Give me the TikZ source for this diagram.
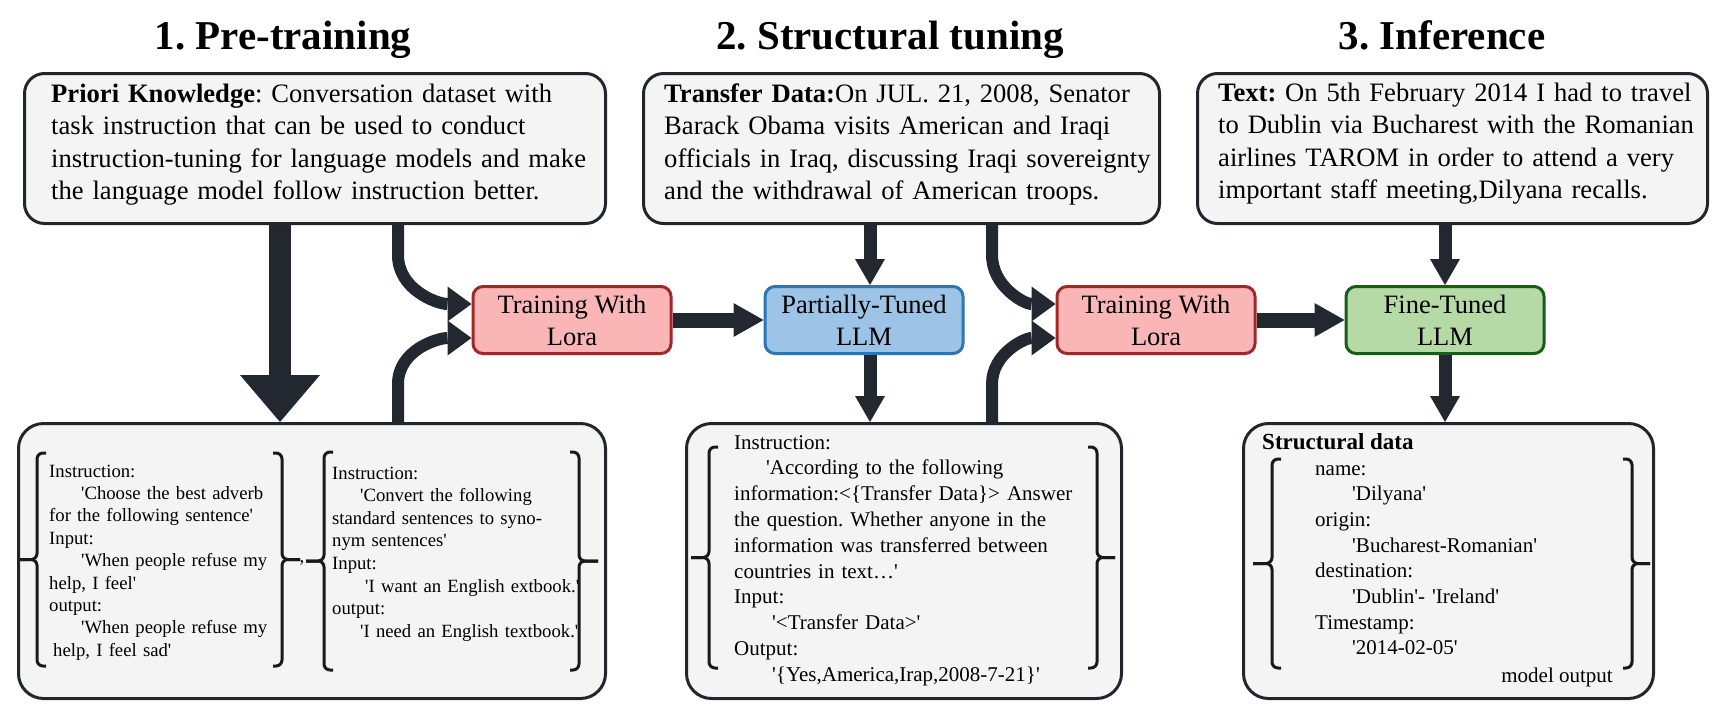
\documentclass[tikz,border=0pt]{standalone}
\usepackage{fontspec}
\setmainfont{Liberation Serif}[Ligatures=TeXOff]
\usetikzlibrary{arrows.meta}
\frenchspacing
\definecolor{boxfill}{HTML}{F4F4F4}
\definecolor{dark}{HTML}{22262C}
\definecolor{arrc}{HTML}{232830}
\definecolor{redf}{HTML}{FAB6B6}
\definecolor{redd}{HTML}{A0282A}
\definecolor{bluef}{HTML}{9DC3E6}
\definecolor{blued}{HTML}{2E75B6}
\definecolor{greenf}{HTML}{B6DAA6}
\definecolor{greend}{HTML}{185C18}
\tikzset{
  box/.style={draw=dark, line width=3pt, fill=boxfill, rounded corners=20pt, anchor=north west, inner sep=0pt},
  mid/.style={line width=3pt, rounded corners=10pt, minimum width=198pt, minimum height=67pt, align=center, inner sep=0pt, font=\fontsize{26.5}{32}\selectfont},
  txt/.style={anchor=base west, inner sep=0pt, align=left, text width=700pt},
  ttl/.style={anchor=base, inner sep=0pt, font=\fontsize{41}{49}\selectfont\bfseries},
  brc/.style={draw=black!90, line width=3pt, rounded corners=6pt},
  bigarr/.style={draw=arrc, line width=22pt, -{Triangle[width=80pt,length=47pt,line width=0pt]}},
  curarr/.style={draw=arrc, line width=12pt, -{Triangle[width=35pt,length=24pt,line width=0pt]}},
  harr/.style={draw=arrc, line width=15pt, -{Triangle[width=34pt,length=30pt,line width=0pt]}},
  varr/.style={draw=arrc, line width=13pt, -{Triangle[width=30pt,length=26pt,line width=0pt]}},
}
\newcommand\braceL[4]{%
  \draw[brc] (#1+9,#2) -- (#1,#2) -- (#1,{(#2+#3)/2}) -- (#4,{(#2+#3)/2});
  \draw[brc] (#1+9,#3) -- (#1,#3) -- (#1,{(#2+#3)/2}) -- (#4,{(#2+#3)/2});}
\newcommand\braceR[4]{%
  \draw[brc] (#1-9,#2) -- (#1,#2) -- (#1,{(#2+#3)/2}) -- (#4,{(#2+#3)/2});
  \draw[brc] (#1-9,#3) -- (#1,#3) -- (#1,{(#2+#3)/2}) -- (#4,{(#2+#3)/2});}
\begin{document}
\begin{tikzpicture}[x=1pt,y=-1pt]
\useasboundingbox (0,0) rectangle (1718,721);
% titles
\node[ttl] (h1) at (283,49) {1. Pre-training};
\node[ttl] (h2) at (890,49) {2. Structural tuning};
\node[ttl] (h3) at (1442,49) {3. Inference};
% top boxes
\node[box, minimum width=581pt, minimum height=150pt] (b1) at (23,72) {};
\node[box, minimum width=516pt, minimum height=150pt] (b2) at (642,72) {};
\node[box, minimum width=510pt, minimum height=150pt] (b3) at (1196,72) {};
\node[txt, font=\fontsize{26.6}{32.5}\selectfont] (t1) at (51,102)
 {\textbf{Priori Knowledge}: Conversation dataset with\\
  task instruction that can be used to conduct\\
  instruction-tuning for language models and make\\
  the language model follow instruction better.};
\node[txt, font=\fontsize{26.6}{32.5}\selectfont] (t2) at (664,102)
 {\textbf{Transfer Data:}On JUL. 21, 2008, Senator\\
  Barack Obama visits American and Iraqi\\
  officials in Iraq, discussing Iraqi sovereignty\\
  and the withdrawal of American troops.};
\node[txt, font=\fontsize{26.6}{32.5}\selectfont] (t3) at (1218,101)
 {\textbf{Text:} On 5th February 2014 I had to travel\\
  to Dublin via Bucharest with the Romanian\\
  airlines TAROM in order to attend a very\\
  important staff meeting,Dilyana recalls.};
% bottom boxes
\node[box, rounded corners=25pt, minimum width=587pt, minimum height=275pt] (bb1) at (17,422) {};
\node[box, rounded corners=25pt, minimum width=435pt, minimum height=275pt] (bb2) at (685,422) {};
\node[box, rounded corners=25pt, minimum width=410pt, minimum height=275pt] (bb3) at (1242,422) {};
% middle nodes
\node[mid, fill=redf, draw=redd] (tw1) at (572,320) {Training With\\Lora};
\node[mid, fill=bluef, draw=blued] (pt) at (864,320) {Partially-Tuned\\LLM};
\node[mid, fill=redf, draw=redd] (tw2) at (1156,320) {Training With\\Lora};
\node[mid, fill=greenf, draw=greend] (ft) at (1445,320) {Fine-Tuned\\LLM};
% bottom texts
\node[txt, font=\fontsize{18.7}{22.4}\selectfont] (l1) at (49,477)
 {Instruction:\\
  \hspace*{32pt}'Choose the best adverb\\
  for the following sentence'\\
  Input:\\
  \hspace*{32pt}'When people refuse my\\
  help, I feel'\\
  output:\\
  \hspace*{32pt}'When people refuse my\\
  \hspace*{4pt}help, I feel sad'};
\node[anchor=base, inner sep=0pt, font=\fontsize{18.7}{22.4}\selectfont] (cm) at (302,562) {,};
\node[txt, font=\fontsize{18.7}{22.6}\selectfont] (l2) at (332,479)
 {Instruction:\\
  \hspace*{28pt}'Convert the following\\
  standard sentences to syno-\\
  nym sentences'\\
  Input:\\
  \hspace*{33pt}'I want an English extbook.'\\
  output:\\
  \hspace*{28pt}'I need an English textbook.'};
\node[txt, font=\fontsize{21}{25.8}\selectfont] (l3) at (734,449)
 {Instruction:\\
  \hspace*{32pt}'According to the following\\
  information:<\{Transfer Data\}> Answer\\
  the question. Whether anyone in the\\
  information was transferred between\\
  countries in text…'\\
  Input:\\
  \hspace*{38pt}'<Transfer Data>'\\
  Output:\\
  \hspace*{38pt}'\{Yes,America,Irap,2008-7-21\}'};
\node[anchor=base west, inner sep=0pt, font=\fontsize{23}{27}\selectfont\bfseries] (sd) at (1262,449) {Structural data};
\node[txt, font=\fontsize{21}{25.7}\selectfont] (l4) at (1315,475)
 {name:\\
  \hspace*{37pt}'Dilyana'\\
  origin:\\
  \hspace*{37pt}'Bucharest-Romanian'\\
  destination:\\
  \hspace*{37pt}'Dublin'- 'Ireland'\\
  Timestamp:\\
  \hspace*{37pt}'2014-02-05'};
\node[anchor=base east, inner sep=0pt, font=\fontsize{21}{25.7}\selectfont] (mo) at (1613,682) {model output};
% braces
\braceL{37}{453}{666}{20}
\braceR{282}{453}{666}{300}
\braceL{324}{452}{670}{306}
\braceR{579}{452}{670}{598}
\braceL{709}{447}{668}{691}
\braceR{1097}{447}{668}{1115}
\braceL{1272}{459}{668}{1253}
\braceR{1632}{459}{668}{1650}
% arrows
\coordinate (xa) at (280,0);
\coordinate (xc1) at (398,0);
\coordinate (xp) at (870,0);
\coordinate (xc2) at (992,0);
\coordinate (xf) at (1445,0);
\draw[bigarr] (b1.south -| xa) -- (bb1.north -| xa);
\draw[curarr] (b1.south -| xc1) -- ++(0,30) to[out=-90,in=180] ([yshift=16pt]tw1.west);
\draw[curarr] (bb1.north -| xc1) -- ++(0,-38) to[out=90,in=180] ([yshift=-18pt]tw1.west);
\draw[harr] (tw1.east) -- (pt.west);
\draw[varr] (b2.south -| xp) -- (pt.north -| xp);
\draw[varr] (pt.south -| xp) -- (bb2.north -| xp);
\draw[curarr] (b2.south -| xc2) -- ++(0,30) to[out=-90,in=180] ([yshift=16pt]tw2.west);
\draw[curarr] (bb2.north -| xc2) -- ++(0,-38) to[out=90,in=180] ([yshift=-18pt]tw2.west);
\draw[harr] (tw2.east) -- (ft.west);
\draw[varr] (b3.south -| xf) -- (ft.north -| xf);
\draw[varr] (ft.south -| xf) -- (bb3.north -| xf);
\end{tikzpicture}
\end{document}
